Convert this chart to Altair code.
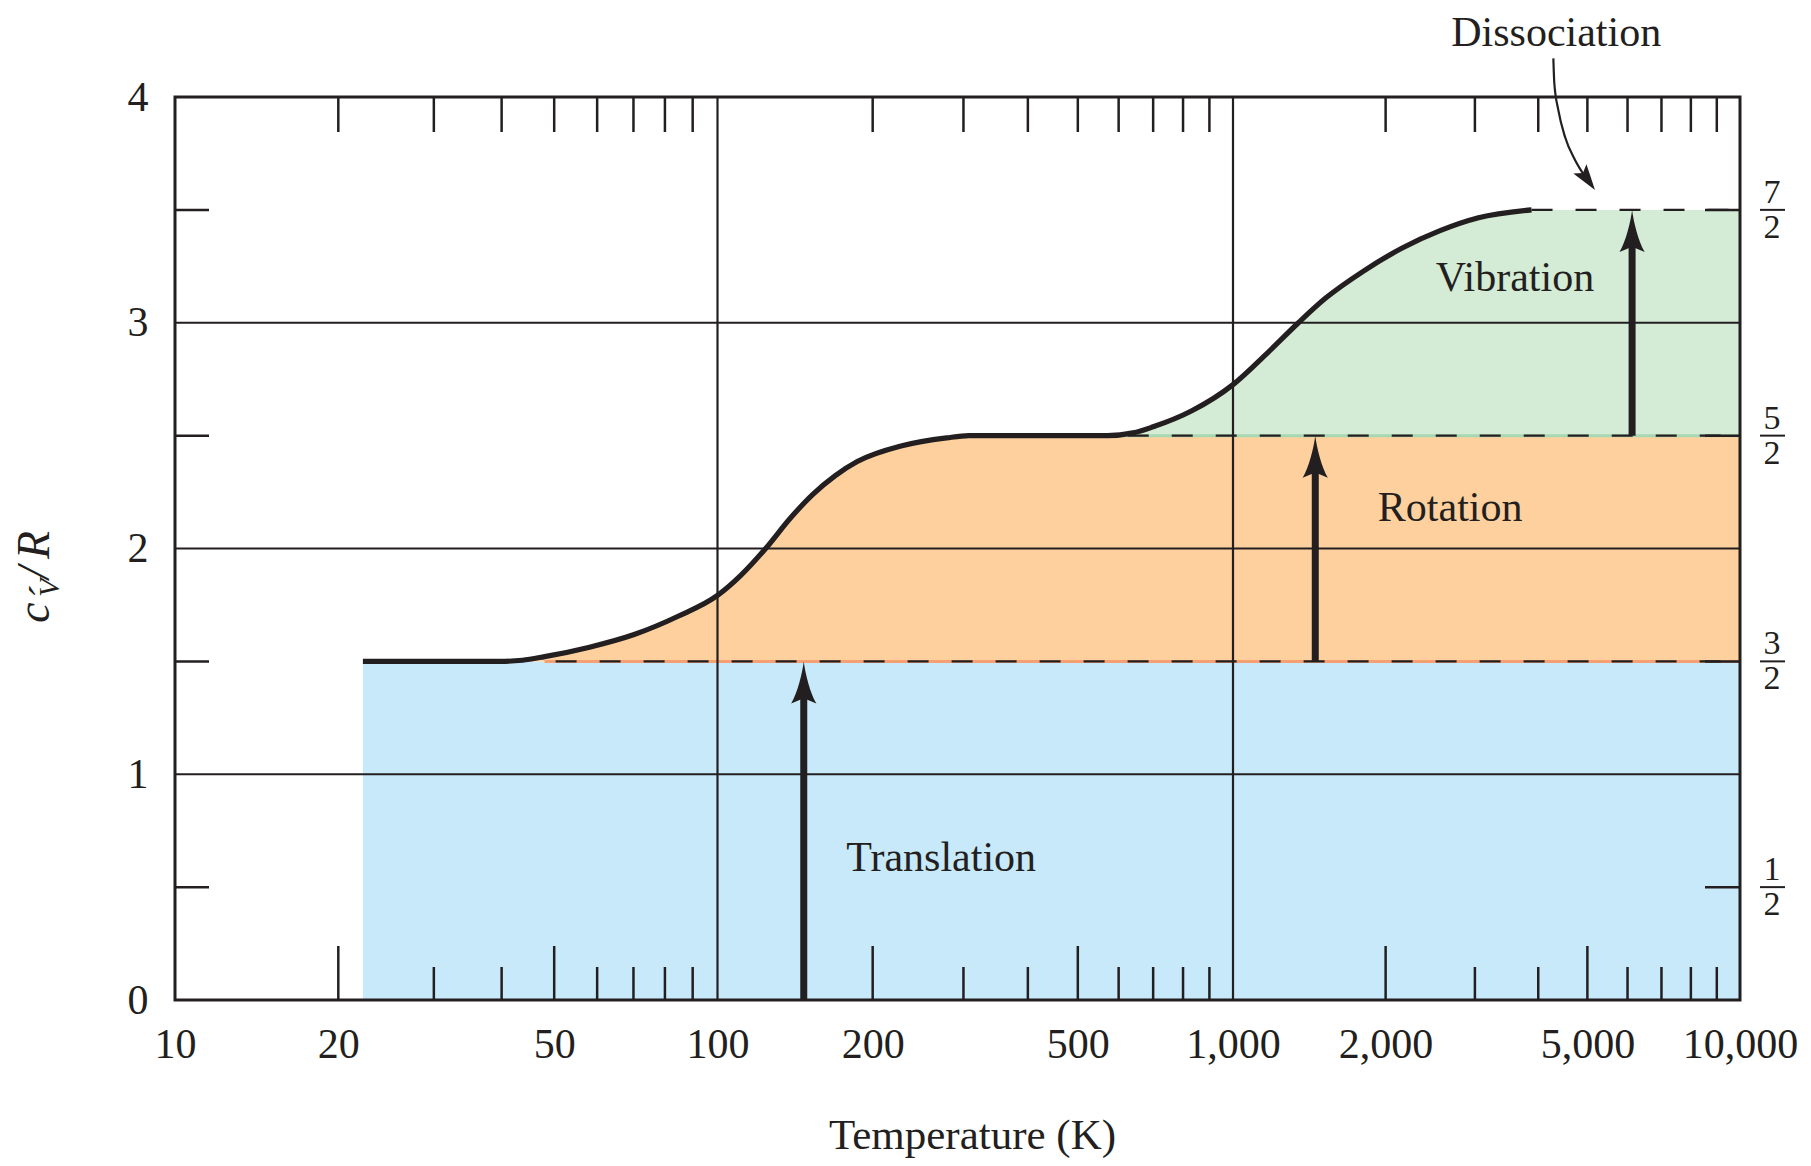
import altair as alt
import pandas as pd

# ---------------- data ----------------
T_curve = [22.2, 39.7, 43.7, 48.0, 58.1, 70.2, 84.8, 100, 111.1, 124.0, 138.4, 152.9, 169.0,
           186.7, 228.0, 278.3, 307.5, 570, 640, 700, 832, 1000, 1170, 1346, 1521, 1809,
           2152, 2561, 3049, 3880]
cv_curve = [1.5, 1.5, 1.505, 1.521, 1.563, 1.619, 1.701, 1.792, 1.882, 2.0, 2.134, 2.239, 2.322,
            2.385, 2.455, 2.49, 2.5, 2.5, 2.512, 2.539, 2.610, 2.726, 2.867, 3.0, 3.108, 3.229,
            3.33, 3.408, 3.465, 3.5]

x_label_values = [10, 20, 50, 100, 200, 500, 1000, 2000, 5000, 10000]
y_label_values = [0, 1, 2, 3, 4]
x_grid = [100, 1000]
y_grid = [1, 2, 3]
top_ticks = [20, 30, 40, 50, 60, 70, 80, 90, 200, 300, 400, 500, 600, 700, 800, 900,
             2000, 3000, 4000, 5000, 6000, 7000, 8000, 9000]
bottom_long_ticks = [20, 50, 200, 500, 2000, 5000]
bottom_short_ticks = [30, 40, 60, 70, 80, 90, 300, 400, 600, 700, 800, 900,
                      3000, 4000, 6000, 7000, 8000, 9000]
half_levels = [0.5, 1.5, 2.5, 3.5]
frac_num = ["1", "3", "5", "7"]
frac_den = ["2", "2", "2", "2"]

mode_names = ["Translation", "Rotation", "Vibration"]
mode_low = [0, 1.5, 2.5]
mode_high = [1.5, 2.5, 3.5]
mode_label_T = [271.6, 2681, 3599]
mode_label_v = [0.629, 2.18, 3.198]
arrow_T = [147, 1453, 6126]
level_values = [1.5, 2.5, 3.5]
level_start_T = [50.3, 346.5, 3880]
edge_modes = ["Rotation", "Vibration"]
edge_values = [1.5, 2.5]
edge_start_T = [48, 346.5]
T_max = 10000

diss_label = "Dissociation"
diss_label_T = 4340
diss_label_v = 4.285
diss_T = [4284, 4303, 4382, 4516, 4727, 4949]
diss_v = [4.171, 4.061, 3.942, 3.824, 3.721, 3.647]
diss_tip_T = 5176
diss_tip_v = 3.588

# ---------------- styles ----------------
DARK = "#231F20"
FONT = "Liberation Serif"
mode_colors = ["#C7E9F9", "#FDD09E", "#D4EBD5"]
edge_colors = ["#F5A073", "#A8D7B4"]
W, H = 1565, 903
ARROW = "M0,0 C0.08,0.6 0.3,1.5 0.6,2 L0,1.75 L-0.6,2 C-0.3,1.5 -0.08,0.6 0,0 Z"
ARROW_SMALL = "M0,0 L0.62,2 L0,1.6 L-0.62,2 Z"

# ---------------- tables ----------------
curve_df = pd.DataFrame({"T": T_curve, "v": cv_curve})

rows = []
for name, lo, hi in zip(mode_names, mode_low, mode_high):
    for t, c in zip(T_curve, cv_curve):
        rows.append({"mode": name, "T": t, "v": min(max(c, lo), hi), "v2": lo})
    rows.append({"mode": name, "T": T_max, "v": hi, "v2": lo})
area_df = pd.DataFrame(rows)

edge_df = pd.DataFrame({"mode": edge_modes, "T": edge_start_T, "T2": [T_max] * 2, "v": edge_values})
level_df = pd.DataFrame({"T": level_start_T, "T2": [T_max] * 3, "v": level_values})
xgrid_df = pd.DataFrame({"T": x_grid})
ygrid_df = pd.DataFrame({"v": y_grid})
top_df = pd.DataFrame({"T": top_ticks})
blong_df = pd.DataFrame({"T": bottom_long_ticks})
bshort_df = pd.DataFrame({"T": bottom_short_ticks})
half_df = pd.DataFrame({"v": half_levels, "num": frac_num, "den": frac_den})
shaft_df = pd.DataFrame({"T": arrow_T, "v": mode_low, "v2": mode_high})
head_df = pd.DataFrame({"T": arrow_T, "v": mode_high})
label_df = pd.DataFrame({"T": mode_label_T, "v": mode_label_v, "mode": mode_names})
diss_df = pd.DataFrame({"T": diss_T, "v": diss_v})
diss_tip_df = pd.DataFrame({"T": [diss_tip_T], "v": [diss_tip_v]})
diss_label_df = pd.DataFrame({"T": [diss_label_T], "v": [diss_label_v], "s": [diss_label]})
one = pd.DataFrame({"k": [0]})

# ---------------- scales / encodings ----------------
xscale = alt.Scale(type="log", domain=[10, 100, 1000, 10000], range=[0, 542.5, 1058, W], nice=False)
yscale = alt.Scale(domain=[0, 4], nice=False)
xaxis = alt.Axis(values=x_label_values, format=",", labelFont=FONT, labelFontSize=42,
                 labelColor=DARK, labelPadding=57, labelBaseline="alphabetic",
                 labelFlush=False, labelOverlap=False, ticks=False, tickSize=0,
                 domain=False, grid=False, title="Temperature (K)", titleFont=FONT,
                 titleFontSize=43, titleFontWeight="normal", titleColor=DARK,
                 titleX=797, titleY=148, titleBaseline="alphabetic", titleAlign="center")
yaxis = alt.Axis(values=y_label_values, format="d", labelFont=FONT, labelFontSize=42,
                 labelColor=DARK, labelPadding=27, ticks=False, tickSize=0,
                 domain=False, grid=False, title=None)
X = alt.X("T:Q", scale=xscale, axis=xaxis)
Y = alt.Y("v:Q", scale=yscale, axis=yaxis)
Ys = alt.Y("v:Q", scale=yscale, axis=yaxis, stack=None)

# ---------------- layers ----------------
areas = alt.Chart(area_df).mark_area(interpolate="monotone", opacity=1).encode(
    x=X, y=Ys, y2="v2:Q",
    fill=alt.Fill("mode:N", scale=alt.Scale(domain=mode_names, range=mode_colors), legend=None),
)
edges = alt.Chart(edge_df).mark_rule(strokeWidth=3).encode(
    x=X, x2="T2:Q", y=Y,
    stroke=alt.Stroke("mode:N", scale=alt.Scale(domain=edge_modes, range=edge_colors), legend=None),
)
ygrid = alt.Chart(ygrid_df).mark_rule(color=DARK, strokeWidth=2.2).encode(
    x=alt.value(0), x2=alt.value(W), y=Y)
xgrid = alt.Chart(xgrid_df).mark_rule(color=DARK, strokeWidth=2.2).encode(
    x=X, y=alt.value(0), y2=alt.value(H))
levels = alt.Chart(level_df).mark_rule(color=DARK, strokeWidth=2.2, strokeDash=[21, 23]).encode(
    x=X, x2="T2:Q", y=Y)
top_t = alt.Chart(top_df).mark_rule(color=DARK, strokeWidth=2.5).encode(
    x=X, y=alt.value(0), y2=alt.value(35))
blong_t = alt.Chart(blong_df).mark_rule(color=DARK, strokeWidth=2.5).encode(
    x=X, y=alt.value(H), y2=alt.value(H - 54))
bshort_t = alt.Chart(bshort_df).mark_rule(color=DARK, strokeWidth=2.5).encode(
    x=X, y=alt.value(H), y2=alt.value(H - 33))
left_t = alt.Chart(half_df).mark_rule(color=DARK, strokeWidth=2.5).encode(
    x=alt.value(0), x2=alt.value(34), y=Y)
right_t = alt.Chart(half_df).mark_rule(color=DARK, strokeWidth=2.5).encode(
    x=alt.value(W - 35), x2=alt.value(W), y=Y)
curve = alt.Chart(curve_df).mark_line(interpolate="monotone", color=DARK, strokeWidth=5.2,
                                      strokeCap="butt").encode(x=X, y=Y)
shafts = alt.Chart(shaft_df).mark_rule(color=DARK, strokeWidth=7, y2Offset=20).encode(
    x=X, y=Y, y2="v2:Q")
heads = alt.Chart(head_df).mark_point(shape=ARROW, size=1764, filled=True, opacity=1,
                                      color=DARK, strokeWidth=0).encode(x=X, y=Y)
frame = alt.Chart(one).mark_rect(fillOpacity=0, stroke=DARK, strokeWidth=3).encode(
    x=alt.value(0), x2=alt.value(W), y=alt.value(0), y2=alt.value(H))
labels = alt.Chart(label_df).mark_text(font=FONT, fontSize=42, color=DARK).encode(
    x=X, y=Y, text="mode:N")
diss_text = alt.Chart(diss_label_df).mark_text(font=FONT, fontSize=42, color=DARK).encode(
    x=X, y=Y, text="s:N")
diss_line = alt.Chart(diss_df).mark_line(interpolate="monotone", color=DARK, strokeWidth=2.2).encode(
    x=X, y=Y)
diss_head = alt.Chart(diss_tip_df).mark_point(shape=ARROW_SMALL, size=676, angle=144.5, filled=True,
                                              opacity=1, color=DARK, strokeWidth=0).encode(x=X, y=Y)
frac_n = alt.Chart(half_df).mark_text(font=FONT, fontSize=34, color=DARK, dy=-17).encode(
    x=alt.value(W + 32), y=Y, text="num:N")
frac_d = alt.Chart(half_df).mark_text(font=FONT, fontSize=34, color=DARK, dy=18).encode(
    x=alt.value(W + 32), y=Y, text="den:N")
frac_bar = alt.Chart(half_df).mark_rule(color=DARK, strokeWidth=2).encode(
    x=alt.value(W + 20), x2=alt.value(W + 45), y=Y)


def title_piece(txt, px, py, size):
    return alt.Chart(pd.DataFrame({"s": [txt]})).mark_text(
        font=FONT, fontSize=size, fontStyle="italic", color=DARK, angle=270,
        align="left", baseline="alphabetic").encode(x=alt.value(px), y=alt.value(py), text="s:N")


ytitle = [
    title_piece("c", -126, 526, 46),
    title_piece("V", -116, 500, 30),
    title_piece("\u00b4", -118, 503, 40),
    title_piece("/", -126, 482, 46),
    title_piece("R", -126, 462, 46),
]

chart = alt.layer(
    areas, edges, ygrid, xgrid, levels, top_t, blong_t, bshort_t, left_t, right_t,
    curve, shafts, heads, frame, labels, diss_text, diss_line, diss_head,
    frac_n, frac_d, frac_bar, *ytitle
).properties(
    width=W, height=H,
    autosize=alt.AutoSizeParams(type="none"),
    padding={"left": 167, "top": 89, "right": 63, "bottom": 158},
    background="white",
).configure_view(strokeWidth=0)

chart.save("out.html", embed_options={"renderer": "svg", "actions": False})
